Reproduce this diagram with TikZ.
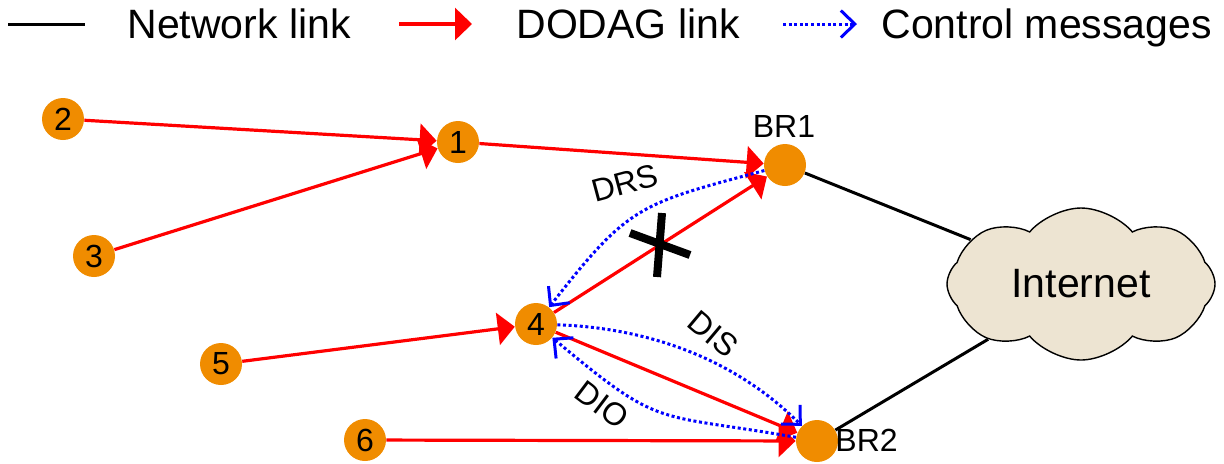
\documentclass[tikz,border=0pt]{standalone}
\usepackage{fontspec}
\setmainfont{Liberation Sans}
\usetikzlibrary{arrows.meta,shapes.symbols}
\definecolor{moteorange}{RGB}{240,140,0}
\definecolor{cloudbeige}{RGB}{237,228,210}
\begin{document}
\begin{tikzpicture}
  [x=0.5pt,y=-0.5pt,
   every node/.style={font=\fontsize{16}{19}\selectfont},
   mote/.style={circle,fill=moteorange,minimum size=21pt,inner sep=0pt},
   legtext/.style={anchor=base west,inner sep=0pt,font=\fontsize{20.5}{24}\selectfont},
   netlink/.style={-,color=black,line width=1.5pt},
   dodag/.style={-{Triangle[length=8.5pt,width=16pt]},color=red,line width=1.6pt},
   ctrl/.style={-{Straight Barb[length=7pt,width=13.5pt]},color=blue,line width=1.5pt,dash pattern=on 1.5pt off 1.3pt}]
  \useasboundingbox (0,0) rectangle (1224,463);
  % legend
  \coordinate (k1a) at (8,24);
  \coordinate (k1b) at (85,24);
  \coordinate (k2a) at (399,24);
  \coordinate (k2b) at (472,24);
  \coordinate (k3a) at (783,24);
  \coordinate (k3b) at (857,24);
  \node[legtext] (t1) at (127,38) {Network link};
  \node[legtext] (t2) at (516,38) {DODAG link};
  \node[legtext] (t3) at (881,38) {Control messages};
  \path
    (k1a) edge [netlink] (k1b)
    (k2a) edge [dodag] (k2b)
    (k3a) edge [ctrl] (k3b);
  % nodes
  \node[mote] (n1) at (458,142) {1};
  \node[mote] (n2) at (63,119) {2};
  \node[mote] (n3) at (94,256) {3};
  \node[mote] (n4) at (536,324) {4};
  \node[mote] (n5) at (221,364) {5};
  \node[mote] (n6) at (365,440) {6};
  \node[mote] (br1) at (785,165) {};
  \node[mote] (br2) at (817,441) {};
  \node (lbr1) at (784,126) {BR1};
  \node[anchor=west,inner sep=0pt] (lbr2) at (835,440) {BR2};
  \node[cloud,cloud puffs=8,cloud puff arc=100,aspect=1.8,draw=black,line width=0.7pt,
        fill=cloudbeige,minimum width=134pt,minimum height=76pt,inner sep=0pt,
        font=\fontsize{20.5}{24}\selectfont] (inet) at (1081,284) {Internet};
  \path
    (br1) edge [netlink] (inet)
    (br2) edge [netlink] (inet);
  \path
    (n2) edge [dodag] (n1)
    (n3) edge [dodag] (n1)
    (n1) edge [dodag] (br1)
    (n4) edge [dodag] (br1)
    (n5) edge [dodag] (n4)
    (n4) edge [dodag] (br2)
    (n6) edge [dodag] (br2);
  \path
    (br1) edge [ctrl,out=195,in=52,looseness=1.3] (n4)
    (n4) edge [ctrl,out=-2,in=135,looseness=0.9] (br2)
    (br2) edge [ctrl,out=170,in=-40,looseness=1.4] (n4);
  \node[rotate=15] (drs) at (625,183) {DRS};
  \node[rotate=-40] (dis) at (713,334) {DIS};
  \node[rotate=-37] (dio) at (602,405) {DIO};
  % broken link
  \draw[line width=4pt] (630,233) -- (690,255) (662,213) -- (657,277);
\end{tikzpicture}
\end{document}
